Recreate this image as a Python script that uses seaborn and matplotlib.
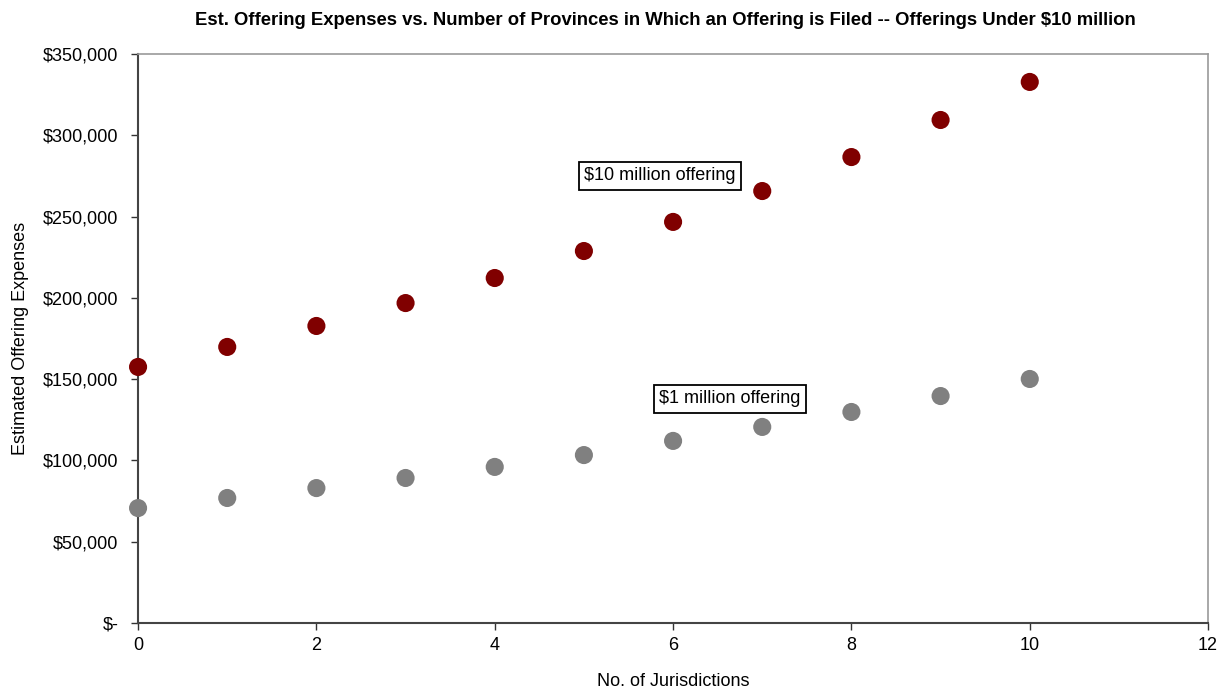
import matplotlib
matplotlib.use("Agg")
import matplotlib.pyplot as plt
import seaborn as sns
import pandas as pd

jurisdictions = [0, 1, 2, 3, 4, 5, 6, 7, 8, 9, 10]
expenses_10m = [157500, 169800, 182700, 196800, 212200, 228800, 246700, 265700, 286600, 309400, 332800]
expenses_1m = [70700, 76900, 83000, 89200, 96000, 103300, 112000, 120600, 129800, 139600, 150100]
y_ticks = [0, 50000, 100000, 150000, 200000, 250000, 300000, 350000]
x_ticks = [0, 2, 4, 6, 8, 10, 12]

sns.set_style("white", {"xtick.bottom": True, "ytick.left": True,
                        "text.color": "black", "axes.labelcolor": "black",
                        "xtick.color": "black", "ytick.color": "black"})
plt.rcParams["font.family"] = ["Liberation Sans", "DejaVu Sans"]

df = pd.DataFrame({
    "x": jurisdictions * 2,
    "y": expenses_10m + expenses_1m,
    "series": ["$10 million offering"] * len(jurisdictions) + ["$1 million offering"] * len(jurisdictions),
})

fig = plt.figure(figsize=(12.25, 6.92), dpi=100)
ax = fig.add_axes([0.1127, 0.0997, 0.8735, 0.8223])

sns.scatterplot(data=df, x="x", y="y", hue="series",
                palette={"$10 million offering": "#800000", "$1 million offering": "#808080"},
                s=170, edgecolor="none", legend=False, ax=ax, clip_on=False, zorder=3)

ax.set_xlim(0, 12)
ax.set_ylim(0, 350000)
ax.set_xticks(x_ticks)
ax.set_yticks(y_ticks)
ax.set_yticklabels(["$-" if v == 0 else f"${v:,.0f}" for v in y_ticks])
ax.tick_params(axis="both", labelsize=13, length=5, width=1, color="#333333",
               labelcolor="black", direction="out")
ax.tick_params(axis="y", pad=9)
ax.tick_params(axis="x", pad=5)

for side in ["left", "bottom"]:
    ax.spines[side].set_color("#444444")
    ax.spines[side].set_linewidth(1.5)
for side in ["top", "right"]:
    ax.spines[side].set_color("#999999")
    ax.spines[side].set_linewidth(1.2)

ax.set_xlabel("No. of Jurisdictions", fontsize=13, labelpad=14, color="black")
ax.set_ylabel("Estimated Offering Expenses", fontsize=13, labelpad=10, color="black")
fig.suptitle("Est. Offering Expenses vs. Number of Provinces in Which an Offering is Filed -- Offerings Under $10 million",
             x=0.543, y=0.982, fontsize=13.3, fontweight="bold", color="black")

box = dict(boxstyle="square,pad=0.3", facecolor="white", edgecolor="black", linewidth=1.3)
ax.text(5.85, 275000, "$10 million offering", fontsize=13, ha="center", va="center", bbox=box, zorder=4)
ax.text(6.64, 137800, "$1 million offering", fontsize=13, ha="center", va="center", bbox=box, zorder=4)

fig.savefig("out.png", dpi=100)
